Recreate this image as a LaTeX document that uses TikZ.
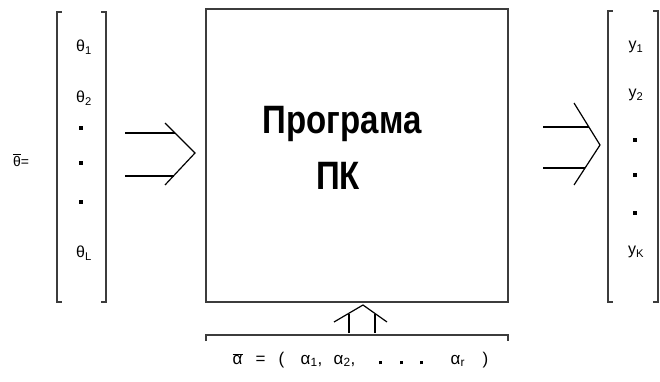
\documentclass[tikz,border=0pt]{standalone}
\usepackage{fontspec}
\usepackage{graphicx}
\setmainfont{Liberation Sans}
\usetikzlibrary{calc}
\definecolor{LineGray}{RGB}{60,60,60}

\tikzset{
  vecitem/.style={font=\fontsize{16}{18}\selectfont, inner sep=0pt},
  vecbox/.style={inner sep=0pt, minimum width=49pt, minimum height=290pt},
  bracketline/.style={draw=LineGray, line width=1.6pt},
  boxline/.style={draw=LineGray, line width=2pt},
  arrowline/.style={draw=black, line width=1.2pt},
  titletext/.style={font=\fontsize{33}{38}\selectfont\bfseries, inner sep=0pt},
}
\newcommand{\sqdot}{\rule{3.6pt}{3.6pt}}
\newcommand{\putat}[2]{\makebox[0pt][l]{\hspace{#1pt}#2}}

\begin{document}
\begin{tikzpicture}[x=1pt,y=-1pt]
  \useasboundingbox (0,0) rectangle (660,382);

  % program box
  \node[boxline, inner sep=0pt, minimum width=302pt, minimum height=293pt] (prog) at (357,155.5) {};
  \node[titletext] (progA) at (342,124) {\scalebox{1}[1.2]{Програма}};
  \node[titletext] (progB) at (338,176) {\scalebox{1}[1.2]{ПК}};

  % input vector
  \node[font=\fontsize{14}{16}\selectfont] (thbar) at (21,160) {$\overline{\hbox{θ}}$=};
  \node[vecbox] (thvec) at (81.5,157) {};
  \draw[bracketline] ($(thvec.north west)+(5,0)$) -- (thvec.north west) -- (thvec.south west) -- ++(5,0);
  \draw[bracketline] ($(thvec.north east)+(-5,0)$) -- (thvec.north east) -- (thvec.south east) -- ++(-5,0);
  \node[vecitem] (th1) at (84,47) {θ\textsubscript{1}};
  \node[vecitem] (th2) at (84,98) {θ\textsubscript{2}};
  \node[vecitem] (thd1) at (81,128) {\sqdot};
  \node[vecitem] (thd2) at (81,163) {\sqdot};
  \node[vecitem] (thd3) at (81,202) {\sqdot};
  \node[vecitem] (thL) at (84,253) {θ\textsubscript{L}};

  % output vector
  \node[vecbox, minimum width=50pt] (yvec) at (633,156.5) {};
  \draw[bracketline] ($(yvec.north west)+(5,0)$) -- (yvec.north west) -- (yvec.south west) -- ++(5,0);
  \draw[bracketline] ($(yvec.north east)+(-5,0)$) -- (yvec.north east) -- (yvec.south east) -- ++(-5,0);
  \node[vecitem] (y1) at (636,47) {y\textsubscript{1}};
  \node[vecitem] (y2) at (636,95) {y\textsubscript{2}};
  \node[vecitem] (yd1) at (635,140) {\sqdot};
  \node[vecitem] (yd2) at (635,175) {\sqdot};
  \node[vecitem] (yd3) at (635,213) {\sqdot};
  \node[vecitem] (yK) at (636,252) {y\textsubscript{K}};

  % input arrow
  \coordinate (inA) at (125,133);
  \coordinate (inB) at (125,176);
  \coordinate (inTip) at (195,153);
  \draw[arrowline] (inA) -- (175,133);
  \draw[arrowline] (inB) -- (173.5,176);
  \draw[arrowline] (165,123) -- (inTip) -- (165,185);

  % output arrow
  \coordinate (outA) at (543,127);
  \coordinate (outB) at (543,168);
  \coordinate (outTip) at (600,145);
  \draw[arrowline] (outA) -- (589,127);
  \draw[arrowline] (outB) -- (585,168);
  \draw[arrowline] (574,103) -- (outTip) -- (574,185);

  % parameters
  \draw[bracketline] ($(prog.south west)+(1,38)$) -- ++(0,-6) -- ($(prog.south east)+(-1,32)$) -- ++(0,6);
  \coordinate (upTip) at (363,305);
  \draw[arrowline] (349,333) -- (349,314);
  \draw[arrowline] (375,333) -- (375,314);
  \draw[arrowline] (334,322) -- (upTip) -- (387,322);
  \node[font=\fontsize{17}{19}\selectfont, inner sep=0pt, anchor=west] (alpha) at (230,360)
    {\putat{2}{$\overline{\hbox{α}}$}\putat{25}{=}\putat{48}{(}\putat{70}{α\textsubscript{1},}\putat{103}{α\textsubscript{2},}\putat{148}{\sqdot}\putat{169}{\sqdot}\putat{189}{\sqdot}\putat{220}{α\textsubscript{r}}\putat{252}{)}\hspace{258pt}};
\end{tikzpicture}
\end{document}
